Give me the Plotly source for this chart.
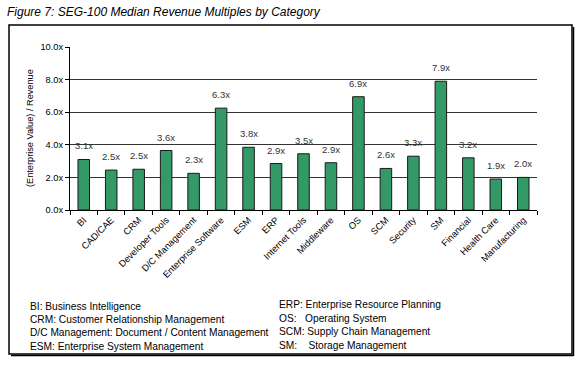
import plotly.graph_objects as go

categories = ["BI", "CAD/CAE", "CRM", "Developer Tools", "D/C Management",
              "Enterprise Software", "ESM", "ERP", "Internet Tools", "Middleware",
              "OS", "SCM", "Security", "SM", "Financial", "Health Care", "Manufacturing"]
values = [3.1, 2.45, 2.5, 3.65, 2.25, 6.25, 3.85, 2.85, 3.45, 2.9,
          6.95, 2.55, 3.3, 7.9, 3.2, 1.9, 2.0]
value_labels = ["3.1x", "2.5x", "2.5x", "3.6x", "2.3x", "6.3x", "3.8x", "2.9x", "3.5x", "2.9x",
                "6.9x", "2.6x", "3.3x", "7.9x", "3.2x", "1.9x", "2.0x"]
y_ticks = [0, 2, 4, 6, 8, 10]
y_tick_labels = ["0.0x", "2.0x", "4.0x", "6.0x", "8.0x", "10.0x"]

legend_left = ["BI: Business Intelligence",
               "CRM: Customer Relationship Management",
               "D/C Management: Document / Content Management",
               "ESM: Enterprise System Management"]
legend_right = ["ERP: Enterprise Resource Planning",
                "OS:\u00a0\u00a0 Operating System",
                "SCM: Supply Chain Management",
                "SM:\u00a0\u00a0\u00a0 Storage Management"]

W, H = 580, 365
FONT = "Liberation Sans, Arial, sans-serif"

fig = go.Figure()
fig.add_trace(go.Bar(
    x=categories, y=values,
    marker=dict(color="#339966", line=dict(color="#1a1a1a", width=1)),
    width=0.42,
    hoverinfo="skip",
))

for c, v, t in zip(categories, values, value_labels):
    fig.add_annotation(x=c, y=v, text=t, showarrow=False, xref="x", yref="y",
                       yanchor="bottom", yshift=6,
                       font=dict(family=FONT, size=9.5, color="#333333"))

L, R, T, B = 70, 537, 47, 210
fig.update_layout(
    width=W, height=H,
    margin=dict(l=L, r=W - R, t=T, b=H - B, autoexpand=False),
    paper_bgcolor="white", plot_bgcolor="white",
    showlegend=False,
    font=dict(family=FONT, size=9, color="black"),
    xaxis=dict(
        tickangle=-45, tickson="boundaries", ticks="outside", ticklen=4,
        tickcolor="black", showline=True, linecolor="black", linewidth=1,
        showgrid=False, tickfont=dict(size=9.3, color="black"), automargin=False,
    ),
    yaxis=dict(
        range=[0, 10], tickvals=y_ticks, ticktext=y_tick_labels,
        ticks="outside", ticklen=4, tickcolor="black",
        showline=True, linecolor="black", linewidth=1,
        showgrid=True, gridcolor="#333333", gridwidth=1, zeroline=False,
        tickfont=dict(size=9.3, color="black"), automargin=False,
    ),
)

def px(x):
    return (x - L) / (R - L)

def py(y):
    return (B - y) / (B - T)

# Outer frame with a slight shadow
fig.add_shape(type="rect", xref="paper", yref="paper",
              x0=px(9), x1=px(572), y0=py(354), y1=py(25),
              line=dict(color="black", width=1.5))
fig.add_shape(type="line", xref="paper", yref="paper",
              x0=px(573.5), x1=px(573.5), y0=py(356), y1=py(27),
              line=dict(color="black", width=1.5))
fig.add_shape(type="line", xref="paper", yref="paper",
              x0=px(11), x1=px(573.5), y0=py(355.5), y1=py(355.5),
              line=dict(color="black", width=1.5))

fig.add_annotation(xref="paper", yref="paper", x=px(5), y=py(12),
                   xanchor="left", yanchor="middle", showarrow=False,
                   text="<i>Figure 7: SEG-100 Median Revenue Multiples by Category</i>",
                   font=dict(family=FONT, size=12, color="black"))

fig.add_annotation(xref="paper", yref="paper", x=px(30), y=py(128),
                   xanchor="center", yanchor="middle", showarrow=False, textangle=-90,
                   text="(Enterprise Value) / Revenue",
                   font=dict(family=FONT, size=9.2, color="black"))

for txt, yy in zip(legend_left, [306, 319, 332.5, 346]):
    fig.add_annotation(xref="paper", yref="paper", x=px(28), y=py(yy),
                       xanchor="left", yanchor="middle", showarrow=False, text=txt,
                       font=dict(family=FONT, size=10.2, color="black"))
for txt, yy in zip(legend_right, [304, 318, 331.5, 345]):
    fig.add_annotation(xref="paper", yref="paper", x=px(277), y=py(yy),
                       xanchor="left", yanchor="middle", showarrow=False, text=txt,
                       font=dict(family=FONT, size=10.2, color="black"))

fig.write_html("out.html", config={"displayModeBar": False},
               post_script="document.body.style.margin='0px';")
